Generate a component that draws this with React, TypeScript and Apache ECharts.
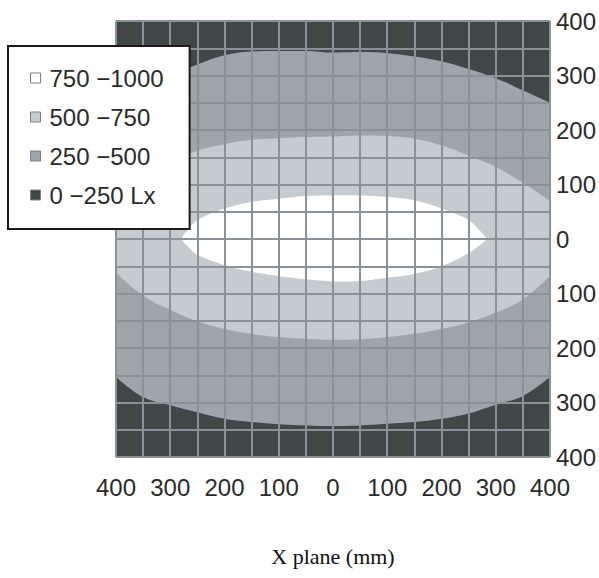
import React, { useEffect, useRef } from "react";
import * as echarts from "echarts";

// Grid positions along X (mm)
const xGrid = [-400, -350, -300, -250, -200, -150, -100, -50, 0, 50, 100, 150, 200, 250, 300, 350, 400];
// 250 Lx contour (upper and lower branches), Y in mm
const upper250 = [250, 273, 297, 320, 337, 344, 345, 345, 342, 343, 341, 335, 326, 312, 295, 273, 250];
const lower250 = [-253, -290, -305, -318, -330, -336, -340, -342, -343, -342, -339, -336, -330, -320, -304, -288, -253];
// 500 Lx contour
const upper500 = [72, 110, 140, 162, 174, 182, 185, 187, 188, 190, 189, 184, 172, 153, 132, 103, 70];
const lower500 = [-62, -104, -130, -151, -165, -174, -180, -183, -185, -184, -180, -174, -165, -153, -135, -111, -68];
// 750 Lx contour (closed): top branch left->right, bottom branch left->right
const white750X = [-278, -265, -250, -200, -150, -100, -50, 0, 50, 100, 150, 200, 250, 270, 282];
const white750Top = [0, 20, 35, 56, 68, 74, 79, 80, 80, 77, 71, 56, 35, 16, 0];
const white750Bottom = [0, -16, -29, -48, -60, -68, -74, -78, -77, -71, -64, -50, -26, -12, 0];

const tickValues = [-400, -300, -200, -100, 0, 100, 200, 300, 400];
const tickLabels = ["400", "300", "200", "100", "0", "100", "200", "300", "400"];
const legendNames = ["750 −1000", "500 −750", "250 −500", "0 −250 Lx"];

const C_DARK = "#3f4747";
const C_MED = "#9fa5ab";
const C_LIGHT = "#c6cbd0";
const C_WHITE = "#ffffff";
const C_GRID = "#8a9197";

function labelFor(v: number) {
  const i = tickValues.indexOf(v);
  return i >= 0 ? tickLabels[i] : "";
}

function bandSeries(name: string, ys: number[], color: string) {
  return {
    type: "line",
    name,
    data: xGrid.map((x, i) => [x, ys[i]]),
    smooth: 0.4,
    symbol: "none",
    showSymbol: false,
    lineStyle: { width: 0, opacity: 0 },
    areaStyle: { color, opacity: 1, origin: "start" },
    itemStyle: { color },
    silent: true,
    z: 2,
  };
}

export default function App() {
  const ref = useRef<HTMLDivElement>(null);
  useEffect(() => {
    if (!ref.current) return;
    const chart = echarts.init(ref.current, null, { renderer: "svg" });
    const whiteLoop: number[][] = [];
    white750X.forEach((x, i) => whiteLoop.push([x, white750Top[i]]));
    for (let i = white750X.length - 2; i >= 1; i--) whiteLoop.push([white750X[i], white750Bottom[i]]);

    const axisLabelStyle = {
      fontFamily: "'Liberation Sans', Arial, sans-serif",
      fontSize: 24,
      color: "#2a2a2a",
    };

    chart.setOption({
      animation: false,
      grid: {
        left: 116,
        top: 21,
        right: 48,
        bottom: 121,
        show: true,
        backgroundColor: C_DARK,
        borderWidth: 0,
      },
      legend: {
        orient: "vertical",
        left: 8,
        top: 46,
        padding: [20, 26, 22, 22],
        backgroundColor: "#ffffff",
        borderColor: "#1a1a1a",
        borderWidth: 2,
        borderRadius: 0,
        itemWidth: 10,
        itemHeight: 10,
        itemGap: 15,
        selectedMode: false,
        icon: "rect",
        textStyle: {
          fontFamily: "'Liberation Sans', Arial, sans-serif",
          fontSize: 24,
          lineHeight: 24,
          color: "#2a2a2a",
          padding: [0, 0, 0, 4],
        },
        data: [
          { name: legendNames[0], itemStyle: { color: C_WHITE, borderColor: "#7a8087", borderWidth: 1 } },
          { name: legendNames[1], itemStyle: { color: C_LIGHT, borderColor: "#7a8087", borderWidth: 1 } },
          { name: legendNames[2], itemStyle: { color: C_MED, borderColor: "#7a8087", borderWidth: 1 } },
          { name: legendNames[3], itemStyle: { color: C_DARK, borderColor: "#7a8087", borderWidth: 1 } },
        ],
        z: 10,
      },
      xAxis: {
        type: "value",
        min: -400,
        max: 400,
        interval: 50,
        z: 3,
        axisLine: { show: false },
        axisTick: { show: false },
        splitLine: { show: true, lineStyle: { color: C_GRID, width: 2 } },
        axisLabel: { ...axisLabelStyle, margin: 18, formatter: (v: number) => labelFor(v) },
        name: "X plane (mm)",
        nameLocation: "middle",
        nameGap: 88,
        nameTextStyle: {
          fontFamily: "'Liberation Serif', 'Times New Roman', serif",
          fontSize: 22,
          color: "#111",
        },
      },
      yAxis: {
        type: "value",
        position: "right",
        min: -400,
        max: 400,
        interval: 50,
        z: 3,
        axisLine: { show: false },
        axisTick: { show: false },
        splitLine: { show: true, lineStyle: { color: C_GRID, width: 2 } },
        axisLabel: { ...axisLabelStyle, margin: 6, formatter: (v: number) => labelFor(v) },
      },
      series: [
        bandSeries(legendNames[2], upper250, C_MED),
        bandSeries(legendNames[1], upper500, C_LIGHT),
        bandSeries(legendNames[2], lower500, C_MED),
        bandSeries(legendNames[3], lower250, C_DARK),
        {
          type: "custom",
          name: legendNames[0],
          data: whiteLoop,
          silent: true,
          z: 2,
          itemStyle: { color: C_WHITE },
          renderItem: (params: any, api: any) => {
            if (params.dataIndex !== 0) return null;
            const pts = whiteLoop.map((p) => api.coord(p));
            return {
              type: "polygon",
              shape: { points: pts, smooth: 0.35 },
              style: { fill: C_WHITE, stroke: null },
            };
          },
        },
      ],
    });
    return () => chart.dispose();
  }, []);
  return (
    <div
      ref={ref}
      style={{ position: "fixed", left: 0, top: 0, width: 599, height: 578, background: "#fff" }}
    />
  );
}
